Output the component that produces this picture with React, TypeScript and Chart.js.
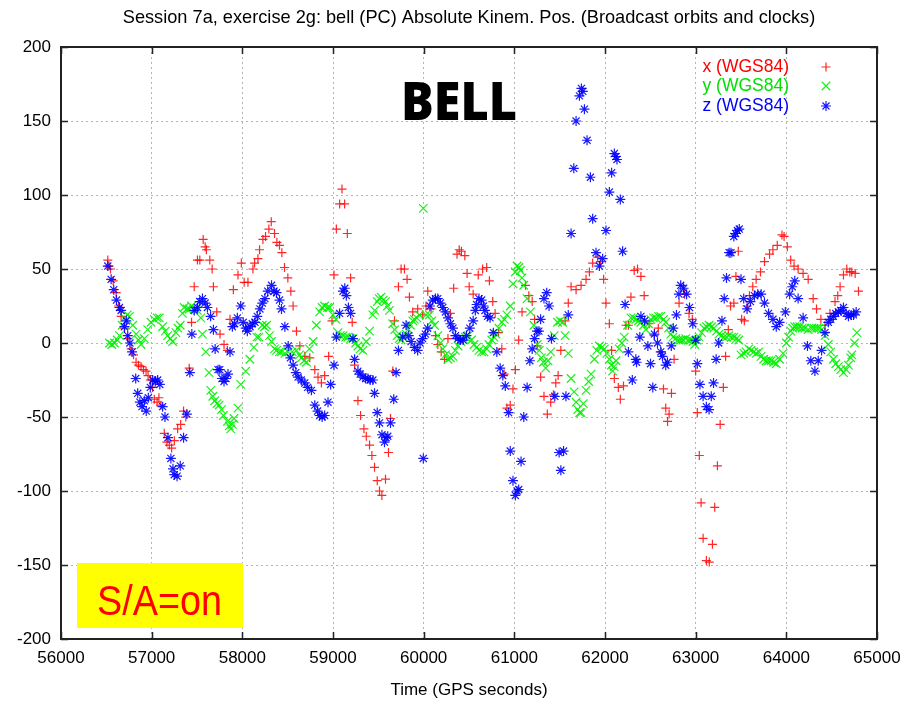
import React, { useEffect, useRef } from "react";
import { Chart, registerables } from "chart.js";

Chart.register(...registerables);

const TITLE = "Session 7a, exercise 2g: bell (PC) Absolute Kinem. Pos. (Broadcast orbits and clocks)";
const X_TITLE = "Time (GPS seconds)";
const STATION = "BELL";
const SA_LABEL = "S/A=on";
const SERIES_LABELS = ["x (WGS84)", "y (WGS84)", "z (WGS84)"];
const X_TICKS = [56000, 57000, 58000, 59000, 60000, 61000, 62000, 63000, 64000, 65000];
const Y_TICKS = [-200, -150, -100, -50, 0, 50, 100, 150, 200];

// [GPS seconds, metres]
const xWgs: [number, number][] = [
  [56516,56],[56530,52],[56546,50],[56575,42],[56608,34],[56635,25],[56663,18],[56700,10],[56736,3],[56773,-4],
  [56800,-8],[56828,-13],[56855,-15],[56883,-16],[56910,-18],[56938,-19],[56960,-22],[56985,-25],[57010,-30],[57029,-38],
  [57060,-40],[57080,-37],[57102,-42],[57139,-61],[57168,-67],[57195,-69],[57220,-71],[57250,-66],[57286,-58],[57320,-55],
  [57352,-46],[57377,-50],[57414,-17],[57440,14],[57469,38],[57505,56],[57531,56],[57568,70],[57590,65],[57604,63],
  [57641,56],[57667,50],[57681,38],[57718,21],[57754,6],[57798,-1],[57835,-5],[57864,16],[57901,36],[57952,46],
  [57989,54],[58020,41],[58062,41],[58117,50],[58135,54],[58172,57],[58190,63],[58227,70],[58256,72],[58293,77],
  [58319,82],[58355,74],[58381,68],[58410,66],[58436,61],[58465,51],[58502,44],[58535,35],[58560,25],[58597,8],
  [58634,-2],[58689,-9],[58744,-10],[58799,-18],[58835,-23],[58872,-27],[58908,-22],[58952,-9],[58989,15],[59011,46],
  [59037,77],[59073,94],[59099,104],[59128,94],[59158,74],[59194,44],[59212,14],[59238,-15],[59275,-39],[59304,-49],
  [59341,-58],[59367,-63],[59403,-69],[59429,-76],[59458,-84],[59488,-93],[59513,-100],[59539,-103],[59579,-92],[59612,-74],
  [59634,-51],[59660,-19],[59678,15],[59722,38],[59751,50],[59788,50],[59817,43],[59843,31],[59879,21],[59934,23],
  [59989,19],[60026,25],[60045,35],[60082,23],[60130,5],[60156,-1],[60193,-6],[60230,-11],[60268,3],[60294,20],
  [60331,37],[60368,60],[60392,63],[60416,62],[60454,59],[60479,47],[60502,38],[60546,33],[60602,46],[60650,50],
  [60695,51],[60725,42],[60762,28],[60788,20],[60825,7],[60862,-4],[60888,-21],[60918,-44],[60955,-42],[60985,-31],
  [61011,-18],[61048,2],[61085,21],[61123,39],[61160,32],[61197,28],[61223,16],[61253,-2],[61290,-23],[61327,-36],
  [61364,-48],[61401,-40],[61431,-35],[61457,-27],[61483,-22],[61513,-5],[61560,15],[61595,27],[61626,38],[61681,36],
  [61736,39],[61791,43],[61828,48],[61864,54],[61919,58],[61950,55],[61985,43],[62011,27],[62048,13],[62073,-5],
  [62103,-24],[62147,-30],[62169,-38],[62204,-29],[62231,12],[62258,12],[62286,31],[62322,49],[62359,50],[62396,45],
  [62432,32],[62487,13],[62542,5],[62588,10],[62620,-6],[62645,-31],[62670,-44],[62690,-53],[62707,-48],[62733,-34],
  [62762,-11],[62817,27],[62879,33],[62927,20],[62963,16],[63000,-19],[63018,-47],[63040,-76],[63060,-108],[63082,-132],
  [63118,-147],[63150,-148],[63185,-136],[63210,-111],[63240,-83],[63270,-55],[63305,-30],[63330,-9],[63360,9],[63385,25],
  [63421,27],[63444,45],[63470,62],[63507,16],[63537,15],[63567,25],[63593,32],[63630,38],[63667,43],[63715,48],
  [63759,55],[63815,60],[63852,63],[63900,66],[63952,73],[63975,72],[64011,65],[64048,56],[64085,52],[64130,50],
  [64185,47],[64241,43],[64296,30],[64333,23],[64381,16],[64426,12],[64481,20],[64537,28],[64567,32],[64593,38],
  [64630,46],[64667,50],[64700,48],[64722,48],[64759,47],[64796,35],
];

const yWgs: [number, number][] = [
  [56535,0],[56560,-1],[56590,0],[56620,2],[56645,5],[56675,12],[56700,17],[56730,19],[56755,18],[56791,12],
  [56828,6],[56855,2],[56883,-1],[56919,3],[56956,9],[56993,14],[57029,16],[57060,17],[57084,17],[57121,11],
  [57150,8],[57176,5],[57205,3],[57231,1],[57267,7],[57290,10],[57315,12],[57340,20],[57359,24],[57390,23],
  [57414,23],[57440,25],[57469,23],[57505,22],[57542,17],[57560,6],[57597,-6],[57633,-20],[57652,-32],[57675,-36],
  [57696,-39],[57720,-41],[57744,-42],[57770,-45],[57791,-49],[57835,-53],[57855,-56],[57872,-58],[57890,-55],[57908,-51],
  [57952,-44],[57982,-28],[58037,-19],[58084,-11],[58128,-3],[58160,4],[58183,4],[58220,12],[58245,11],[58267,12],
  [58300,5],[58322,1],[58355,-4],[58377,-5],[58410,-6],[58432,-6],[58470,-7],[58506,-6],[58550,-6],[58597,-5],
  [58630,-8],[58652,-10],[58680,-12],[58707,-13],[58740,-4],[58780,1],[58817,12],[58853,21],[58880,24],[58908,25],
  [58940,24],[58963,24],[59000,19],[59033,16],[59055,7],[59080,5],[59110,5],[59140,4],[59165,4],[59195,3],
  [59220,3],[59250,0],[59275,-2],[59300,-4],[59330,-5],[59367,1],[59403,8],[59440,19],[59460,22],[59488,28],
  [59510,30],[59531,31],[59555,29],[59579,28],[59600,25],[59623,22],[59659,13],[59680,9],[59707,5],[59730,3],
  [59751,2],[59780,4],[59806,6],[59830,9],[59853,12],[59880,15],[59897,16],[59925,17],[59952,19],[59996,91],
  [60026,19],[60063,19],[60090,15],[60119,12],[60156,5],[60185,0],[60212,-4],[60240,-8],[60268,-11],[60295,-10],
  [60323,-9],[60350,-5],[60379,-2],[60410,1],[60435,3],[60460,4],[60490,5],[60528,2],[60555,-1],[60584,-3],
  [60610,-5],[60639,-6],[60665,-6],[60695,-4],[60720,-1],[60751,2],[60775,4],[60799,6],[60830,10],[60862,14],
  [60890,16],[60918,19],[60955,25],[60985,40],[61010,48],[61030,52],[61050,51],[61067,49],[61085,44],[61104,39],
  [61141,30],[61178,21],[61216,12],[61253,-1],[61275,-5],[61298,-10],[61320,-13],[61346,-17],[61370,-12],[61401,-6],
  [61440,5],[61476,14],[61505,15],[61532,14],[61560,5],[61595,-7],[61626,-24],[61660,-33],[61681,-40],[61699,-45],
  [61720,-47],[61736,-47],[61760,-41],[61791,-32],[61820,-26],[61846,-21],[61883,-11],[61910,-5],[61938,-2],[61965,-3],
  [61993,-4],[62020,-7],[62048,-11],[62070,-15],[62084,-19],[62100,-16],[62121,-12],[62157,-4],[62185,0],[62212,4],
  [62249,12],[62286,17],[62315,17],[62341,16],[62370,15],[62396,14],[62425,12],[62451,9],[62480,13],[62505,16],
  [62535,17],[62560,17],[62590,18],[62615,18],[62645,16],[62670,14],[62700,10],[62725,6],[62750,4],[62780,3],
  [62810,2],[62835,2],[62860,2],[62890,3],[62920,2],[62945,2],[62970,1],[62989,-1],[63012,2],[63037,4],
  [63065,7],[63092,10],[63120,11],[63148,12],[63175,11],[63201,10],[63230,8],[63256,6],[63285,5],[63311,4],
  [63340,4],[63366,5],[63395,4],[63421,4],[63450,3],[63476,2],[63500,-8],[63531,-7],[63556,-6],[63586,-4],
  [63611,-5],[63641,-6],[63667,-7],[63696,-6],[63722,-9],[63750,-11],[63778,-12],[63805,-12],[63833,-12],[63860,-13],
  [63889,-14],[63926,-11],[63963,-7],[64000,0],[64025,4],[64048,8],[64070,10],[64093,11],[64120,11],[64148,11],
  [64175,10],[64204,10],[64240,9],[64278,10],[64305,10],[64333,10],[64360,10],[64389,9],[64426,5],[64463,-1],
  [64490,-6],[64519,-11],[64545,-14],[64574,-16],[64600,-18],[64630,-20],[64660,-18],[64685,-15],[64710,-10],[64722,-8],
  [64752,0],[64778,7],
];

const zWgs: [number, number][] = [
  [56516,52],[56553,43],[56582,36],[56612,29],[56645,24],[56663,22],[56700,11],[56720,15],[56736,5],[56760,0],
  [56784,-6],[56824,-24],[56846,-34],[56870,-40],[56894,-43],[56919,-39],[56940,-46],[56963,-37],[56985,-30],[57011,-25],
  [57040,-26],[57066,-25],[57090,-28],[57121,-43],[57147,-50],[57180,-64],[57212,-78],[57235,-85],[57249,-89],[57280,-90],
  [57315,-83],[57352,-64],[57388,-48],[57421,-20],[57443,6],[57470,22],[57505,24],[57530,28],[57560,30],[57590,27],
  [57615,24],[57650,18],[57681,9],[57700,-4],[57732,-18],[57751,-18],[57775,-24],[57798,-26],[57820,-24],[57842,-21],
  [57864,-6],[57890,11],[57915,13],[57945,17],[57982,25],[58010,14],[58037,10],[58055,8],[58085,11],[58110,13],
  [58139,14],[58165,18],[58194,23],[58220,27],[58249,30],[58280,35],[58322,39],[58350,35],[58377,34],[58410,29],
  [58432,23],[58469,11],[58506,-2],[58530,-10],[58560,-15],[58590,-20],[58615,-23],[58650,-25],[58689,-27],[58720,-30],
  [58762,-32],[58799,-42],[58830,-46],[58853,-49],[58880,-50],[58908,-49],[58945,-40],[58974,-28],[59011,-15],[59037,4],
  [59073,20],[59110,35],[59130,37],[59147,32],[59170,24],[59194,20],[59220,3],[59238,-11],[59275,-19],[59300,-21],
  [59330,-23],[59360,-24],[59385,-24],[59410,-25],[59440,-25],[59458,-34],[59488,-47],[59513,-54],[59540,-62],[59568,-67],
  [59585,-64],[59604,-63],[59634,-54],[59670,-38],[59696,-20],[59722,-5],[59769,4],[59806,12],[59835,5],[59861,1],
  [59900,-3],[59934,-5],[59960,0],[59989,3],[59996,-78],[60020,6],[60044,10],[60070,25],[60100,29],[60130,30],
  [60156,30],[60185,27],[60212,24],[60240,21],[60268,17],[60295,13],[60323,10],[60350,5],[60379,3],[60405,2],
  [60435,2],[60472,5],[60509,10],[60546,15],[60570,22],[60584,26],[60610,30],[60639,29],[60660,25],[60676,22],
  [60705,18],[60732,17],[60769,7],[60807,-6],[60844,-17],[60873,-22],[60900,-29],[60937,-47],[60955,-73],[60985,-93],
  [61011,-103],[61030,-100],[61048,-99],[61074,-80],[61104,-50],[61141,-30],[61171,-12],[61197,-4],[61223,3],[61250,8],
  [61271,8],[61290,16],[61327,30],[61357,34],[61383,25],[61409,3],[61446,-36],[61494,-74],[61513,-86],[61543,-73],
  [61569,-36],[61595,19],[61626,74],[61656,118],[61681,150],[61718,167],[61740,172],[61755,170],[61773,158],[61802,137],
  [61839,112],[61864,84],[61901,61],[61938,52],[61974,57],[62011,76],[62048,102],[62073,115],[62103,128],[62120,126],
  [62132,124],[62169,97],[62194,62],[62222,26],[62258,-6],[62301,-25],[62340,-11],[62348,-13],[62384,4],[62396,18],
  [62437,15],[62473,-2],[62502,-14],[62527,-30],[62545,6],[62579,0],[62615,-6],[62634,-9],[62670,-15],[62689,-13],
  [62731,-2],[62753,10],[62788,19],[62815,33],[62835,39],[62867,37],[62900,33],[62932,24],[62968,13],[63000,2],
  [63018,-14],[63047,-28],[63082,-36],[63118,-43],[63148,-45],[63172,-36],[63197,-27],[63226,-11],[63254,0],[63290,15],
  [63315,30],[63340,44],[63369,61],[63389,61],[63421,72],[63440,74],[63460,76],[63481,77],[63500,43],[63530,30],
  [63567,23],[63604,28],[63648,32],[63685,33],[63722,33],[63759,27],[63804,20],[63852,16],[63889,11],[63926,14],
  [63989,21],[64037,33],[64065,38],[64093,42],[64130,30],[64185,17],[64233,-2],[64270,-12],[64315,-19],[64352,-12],
  [64389,-5],[64426,7],[64463,14],[64490,16],[64519,18],[64545,20],[64574,21],[64600,22],[64630,24],[64660,20],
  [64685,18],[64715,19],[64741,19],[64770,21],
];

const RED = "rgba(255,0,0,0.85)";
const GREEN = "rgba(0,240,0,0.9)";
const BLUE = "rgba(0,0,255,0.9)";
const TEXT_RED = "#ff0000";
const TEXT_GREEN = "#00e000";
const TEXT_BLUE = "#0000ff";
const SANS = "'Liberation Sans', Arial, sans-serif";

function drawMarker(ctx: CanvasRenderingContext2D, kind: string, x: number, y: number, r: number) {
  ctx.beginPath();
  if (kind === "cross" || kind === "star") {
    ctx.moveTo(x - r, y); ctx.lineTo(x + r, y);
    ctx.moveTo(x, y - r); ctx.lineTo(x, y + r);
  }
  if (kind === "crossRot" || kind === "star") {
    const d = r * Math.SQRT1_2;
    ctx.moveTo(x - d, y - d); ctx.lineTo(x + d, y + d);
    ctx.moveTo(x - d, y + d); ctx.lineTo(x + d, y - d);
  }
  ctx.stroke();
}

const decorPlugin = {
  id: "decor",
  beforeDraw(chart: any) {
    const ctx = chart.ctx as CanvasRenderingContext2D;
    ctx.save();
    ctx.fillStyle = "#ffffff";
    ctx.fillRect(0, 0, chart.width, chart.height);
    ctx.restore();
  },
  afterDraw(chart: any) {
    const ctx = chart.ctx as CanvasRenderingContext2D;
    const { left, right, top, bottom } = chart.chartArea;
    const xs = chart.scales.x;
    const ys = chart.scales.y;
    ctx.save();

    // frame
    ctx.strokeStyle = "#222";
    ctx.lineWidth = 2;
    ctx.strokeRect(left, top, right - left, bottom - top);

    // inward ticks on all four sides
    ctx.lineWidth = 1.5;
    const tl = 7;
    ctx.beginPath();
    X_TICKS.forEach((v) => {
      const px = Math.round(xs.getPixelForValue(v)) + 0.5;
      ctx.moveTo(px, bottom); ctx.lineTo(px, bottom - tl);
      ctx.moveTo(px, top); ctx.lineTo(px, top + tl);
    });
    Y_TICKS.forEach((v) => {
      const py = Math.round(ys.getPixelForValue(v)) + 0.5;
      ctx.moveTo(left, py); ctx.lineTo(left + tl, py);
      ctx.moveTo(right, py); ctx.lineTo(right - tl, py);
    });
    ctx.stroke();

    // title
    ctx.fillStyle = "#000";
    ctx.textAlign = "center";
    ctx.textBaseline = "middle";
    let fs = 15;
    ctx.font = `${fs}px ${SANS}`;
    const w = ctx.measureText(TITLE).width;
    fs = fs * 693 / w;
    ctx.font = `${fs}px ${SANS}`;
    ctx.fillText(TITLE, (left + right) / 2, 18);

    // x axis title
    ctx.font = `17px ${SANS}`;
    ctx.fillText(X_TITLE, (left + right) / 2, 690);

    // station name
    ctx.font = `900 53px 'Noto Sans', sans-serif`;
    ctx.textAlign = "left";
    ctx.textBaseline = "alphabetic";
    const bw = ctx.measureText(STATION).width;
    ctx.save();
    ctx.translate(401, 120);
    ctx.scale(116 / bw, 1);
    ctx.fillText(STATION, 0, 0);
    ctx.restore();

    // legend
    const legendColors = [TEXT_RED, TEXT_GREEN, TEXT_BLUE];
    const markColors = [RED, GREEN, BLUE];
    const markKinds = ["cross", "crossRot", "star"];
    const markR = [4.5, 6, 5];
    const ly = [67, 86, 106];
    ctx.font = `17.5px ${SANS}`;
    ctx.textAlign = "right";
    ctx.textBaseline = "middle";
    SERIES_LABELS.forEach((lab, i) => {
      ctx.fillStyle = legendColors[i];
      ctx.fillText(lab, 789, ly[i]);
      ctx.strokeStyle = markColors[i];
      ctx.lineWidth = 1.2;
      drawMarker(ctx, markKinds[i], 826, ly[i], markR[i]);
    });

    // S/A box
    ctx.fillStyle = "#ffff00";
    ctx.fillRect(77, 563, 166, 65);
    ctx.fillStyle = TEXT_RED;
    ctx.font = `42px ${SANS}`;
    ctx.textAlign = "left";
    ctx.textBaseline = "alphabetic";
    const sw = ctx.measureText(SA_LABEL).width;
    ctx.save();
    ctx.translate(97, 615);
    ctx.scale(125 / sw, 1);
    ctx.fillText(SA_LABEL, 0, 0);
    ctx.restore();

    ctx.restore();
  },
};

export default function App() {
  const ref = useRef<HTMLCanvasElement>(null);
  useEffect(() => {
    const canvas = ref.current;
    if (!canvas) return;
    const toPts = (a: [number, number][]) => a.map(([t, v]) => ({ x: t, y: v }));
    const chart = new Chart(canvas, {
      type: "scatter",
      data: {
        datasets: [
          { label: SERIES_LABELS[0], data: toPts(xWgs), pointStyle: "cross", pointRadius: 4.5, borderColor: RED, backgroundColor: RED, borderWidth: 1.2, order: 3 },
          { label: SERIES_LABELS[1], data: toPts(yWgs), pointStyle: "crossRot", pointRadius: 6, borderColor: GREEN, backgroundColor: GREEN, borderWidth: 1.2, order: 2 },
          { label: SERIES_LABELS[2], data: toPts(zWgs), pointStyle: "star", pointRadius: 5, borderColor: BLUE, backgroundColor: BLUE, borderWidth: 1.2, order: 1 },
        ],
      },
      options: {
        responsive: false,
        animation: false,
        devicePixelRatio: 1,
        layout: { padding: { top: 47, right: 37, left: 0, bottom: 0 } },
        plugins: { legend: { display: false }, tooltip: { enabled: false }, title: { display: false } },
        scales: {
          x: {
            type: "linear",
            min: 56000,
            max: 65000,
            afterFit: (s: any) => { s.height = 68; },
            afterBuildTicks: (s: any) => { s.ticks = X_TICKS.map((v) => ({ value: v })); },
            ticks: { callback: (v: any) => String(v), font: { family: SANS, size: 17 }, color: "#000", padding: 9, maxRotation: 0, autoSkip: false },
            grid: { color: "#b4b4b4", drawTicks: false, lineWidth: 1 },
            border: { display: false, dash: [2, 3] },
          },
          y: {
            type: "linear",
            min: -200,
            max: 200,
            afterFit: (s: any) => { s.width = 61; },
            afterBuildTicks: (s: any) => { s.ticks = Y_TICKS.map((v) => ({ value: v })); },
            ticks: { callback: (v: any) => String(v), font: { family: SANS, size: 17 }, color: "#000", padding: 10, autoSkip: false },
            grid: { color: "#b4b4b4", drawTicks: false, lineWidth: 1 },
            border: { display: false, dash: [2, 3] },
          },
        },
      },
      plugins: [decorPlugin],
    } as any);
    return () => chart.destroy();
  }, []);
  return (
    <div style={{ position: "absolute", left: 0, top: 0, width: 914, height: 707, background: "#fff" }}>
      <canvas ref={ref} width={914} height={707} style={{ display: "block", width: 914, height: 707 }} />
    </div>
  );
}
